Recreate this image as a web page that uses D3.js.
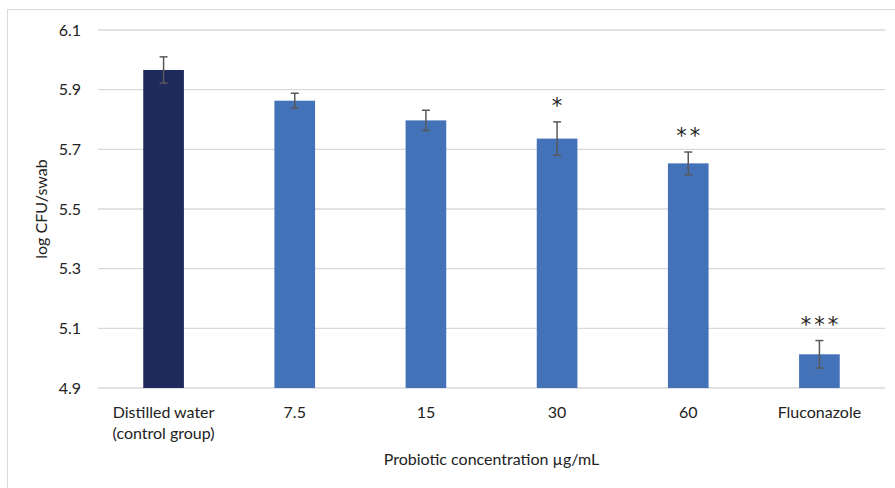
<!DOCTYPE html>
<html>
<head>
<meta charset="utf-8">
<script src="https://cdn.jsdelivr.net/npm/d3@7"></script>
<style>
  body { margin: 0; background: #fff; }
  text { font-family: Lato, "Open Sans", sans-serif; fill: #222; }
</style>
</head>
<body>
<div id="chart"></div>
<script>
// Data
const categories = ["Distilled water\n(control group)", "7.5", "15", "30", "60", "Fluconazole"];
const means = [5.966, 5.863, 5.797, 5.736, 5.653, 5.013];
const errors = [0.044, 0.025, 0.034, 0.056, 0.038, 0.046];
const stars = ["", "", "", "*", "**", "***"];
const yTicks = [4.9, 5.1, 5.3, 5.5, 5.7, 5.9, 6.1];

const W = 895, H = 488;
const plot = { left: 98, right: 885, top: 30, bottom: 388 };
const font = 'Lato, "Open Sans", sans-serif';

const svg = d3.select("#chart").append("svg")
    .attr("width", W)
    .attr("height", H);

// outer chart frame (only top/left visible in the crop)
svg.append("rect")
    .attr("x", 7.5).attr("y", 9.5)
    .attr("width", W + 10).attr("height", H + 10)
    .attr("fill", "none")
    .attr("stroke", "#d9d9d9");

const x = d3.scaleBand()
    .domain(categories)
    .range([plot.left, plot.right])
    .paddingInner(0.69)
    .paddingOuter(0.345);

const y = d3.scaleLinear()
    .domain([4.9, 6.1])
    .range([plot.bottom, plot.top]);

// gridlines
svg.append("g")
    .selectAll("line")
    .data(yTicks)
    .join("line")
    .attr("x1", plot.left).attr("x2", plot.right)
    .attr("y1", d => y(d)).attr("y2", d => y(d))
    .attr("stroke", "#d9d9d9")
    .attr("stroke-width", 1.3);

// y axis labels
const yAxis = d3.axisLeft(y).tickValues(yTicks).tickFormat(d3.format(".1f")).tickSize(0).tickPadding(0);
svg.append("g")
    .attr("transform", `translate(81,0)`)
    .call(yAxis)
    .call(g => g.select(".domain").remove())
    .selectAll("text")
    .attr("font-size", 16)
    .style("font-family", font)
    .attr("fill", "#333");

// bars
svg.append("g")
    .selectAll("rect")
    .data(categories)
    .join("rect")
    .attr("x", d => x(d))
    .attr("width", x.bandwidth())
    .attr("y", (d, i) => y(means[i]))
    .attr("height", (d, i) => y(4.9) - y(means[i]))
    .attr("fill", (d, i) => i === 0 ? "#1f2a5c" : "#4472b9");

// error bars
const eg = svg.append("g").attr("stroke", "#595959").attr("stroke-width", 1.5);
categories.forEach((c, i) => {
    const cx = x(c) + x.bandwidth() / 2;
    const y1 = y(means[i] + errors[i]), y2 = y(means[i] - errors[i]);
    eg.append("line").attr("x1", cx).attr("x2", cx).attr("y1", y1).attr("y2", y2);
    eg.append("line").attr("x1", cx - 4).attr("x2", cx + 4).attr("y1", y1).attr("y2", y1);
    eg.append("line").attr("x1", cx - 4).attr("x2", cx + 4).attr("y1", y2).attr("y2", y2);
});

// significance stars
svg.append("g")
    .selectAll("text")
    .data(categories)
    .join("text")
    .attr("x", d => x(d) + x.bandwidth() / 2 + 1.5)
    .attr("y", (d, i) => y(means[i] + errors[i]) - 9)
    .attr("text-anchor", "middle")
    .attr("font-size", 21)
    .style("font-family", '"DejaVu Sans", sans-serif')
    .attr("letter-spacing", 3)
    .attr("fill", "#111")
    .text((d, i) => stars[i]);

// category labels
const xl = svg.append("g");
categories.forEach(c => {
    const t = xl.append("text")
        .attr("x", x(c) + x.bandwidth() / 2)
        .attr("y", 418)
        .attr("text-anchor", "middle")
        .attr("font-size", 16)
        .attr("fill", "#333");
    c.split("\n").forEach((line, k) => {
        t.append("tspan")
            .attr("x", x(c) + x.bandwidth() / 2)
            .attr("dy", k === 0 ? 0 : 21)
            .text(line);
    });
});

// axis titles
svg.append("text")
    .attr("x", (plot.left + plot.right) / 2)
    .attr("y", 465)
    .attr("text-anchor", "middle")
    .attr("font-size", 16)
    .attr("fill", "#333")
    .text("Probiotic concentration µg/mL");

svg.append("text")
    .attr("transform", `translate(47,${(plot.top + plot.bottom) / 2}) rotate(-90)`)
    .attr("text-anchor", "middle")
    .attr("font-size", 16)
    .attr("fill", "#333")
    .text("log CFU/swab");
</script>
</body>
</html>
